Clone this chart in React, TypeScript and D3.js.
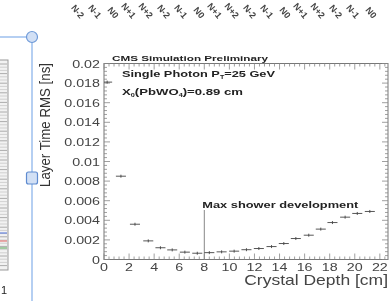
import React from 'react';
import * as d3 from 'd3';

// layer centres (cm) and time RMS (ns)
const depth = [0.25, 1.35, 2.47, 3.53, 4.5, 5.44, 6.45, 7.44, 8.4, 9.38, 10.38, 11.36, 12.35, 13.36, 14.34, 15.3, 16.33, 17.29, 18.22, 19.23, 20.2, 21.2];
const rms = [0.0181, 0.0085, 0.0036, 0.0019, 0.0012, 0.00098, 0.00075, 0.00064, 0.0007, 0.00078, 0.00085, 0.001, 0.00112, 0.00132, 0.00163, 0.00214, 0.00248, 0.0031, 0.00377, 0.00432, 0.0047, 0.0049];
const xHalfWidth = 0.4;

const yTicks = [0, 0.002, 0.004, 0.006, 0.008, 0.01, 0.012, 0.014, 0.016, 0.018, 0.02];
const xTicks = [0, 2, 4, 6, 8, 10, 12, 14, 16, 18, 20, 22];
const maxShowerDepth = 8;

// rotated labels on top
const topLabels = ['N-2', 'N-1', 'N0', 'N+1', 'N+2'];

const W = 392;
const H = 301;
const FONT = '"Liberation Sans", Arial, sans-serif';

const x = d3.scaleLinear().domain([0, 22.65]).range([104, 388]);
const y = d3.scaleLinear().domain([0, 0.02]).range([259.5, 63.5]);

const Stretch = ({ tx, ty, sx = 1.3, anchor = 'start', size = 11, weight = 'normal', fill = '#333', children }: any) => (
  <text
    transform={`translate(${tx},${ty}) scale(${sx},1)`}
    textAnchor={anchor}
    fontSize={size}
    fontWeight={weight}
    fill={fill}
    fontFamily={FONT}
  >
    {children}
  </text>
);

const Fit = ({ tx, ty, len, size = 9, children }: any) => (
  <text
    x={tx}
    y={ty}
    fontSize={size}
    fontWeight="bold"
    fill="#222"
    fontFamily={FONT}
    textLength={len}
    lengthAdjust="spacingAndGlyphs"
  >
    {children}
  </text>
);

export default function App() {
  const [x0, x1] = x.range();
  const [y0, y1] = y.range();

  const xMinor = d3.range(0, 22.65, 0.4);
  const yMinor = d3.range(0, 0.02001, 0.0004);
  const stripes = d3.range(64, 268, 3.2);

  return (
    <svg width={W} height={H} style={{ position: 'absolute', left: 0, top: 0, background: '#fff' }}>
      <defs>
        <filter id="soft">
          <feGaussianBlur stdDeviation="0.45" />
        </filter>
      </defs>
      <g filter="url(#soft)">
        {/* top rotated labels */}
        {d3.range(18).map(i => (
          <text
            key={i}
            transform={`translate(${80 + i * 17.2},19) rotate(50)`}
            textAnchor="end"
            fontSize={9}
            fontWeight="bold"
            fill="#444"
            fontFamily={FONT}
          >
            {topLabels[i % 5]}
          </text>
        ))}

        {/* left side panel */}
        <rect x={-2} y={60} width={10} height={210} fill="#f2f2f2" stroke="#999" strokeWidth={1} />
        {stripes.map((s, i) => (
          <line key={i} x1={0} x2={7} y1={s} y2={s} stroke={i % 3 === 0 ? '#999' : '#c8c8c8'} strokeWidth={0.8} />
        ))}
        <line x1={0} x2={7} y1={233} y2={233} stroke="#4a6ed8" strokeWidth={1} />
        <line x1={0} x2={7} y1={241} y2={241} stroke="#e06060" strokeWidth={1} />
        <line x1={0} x2={7} y1={248} y2={248} stroke="#50a050" strokeWidth={1} />
        <text x={1} y={294} fontSize={11} fill="#222" fontFamily={FONT}>1</text>

        {/* y label */}
        <text
          transform="translate(50,125) rotate(-90)"
          textAnchor="middle"
          fontSize={15}
          fill="#333"
          fontFamily={FONT}
          textLength={124}
          lengthAdjust="spacingAndGlyphs"
        >
          Layer Time RMS [ns]
        </text>

        {/* frame */}
        <rect x={x0} y={y1} width={x1 - x0} height={y0 - y1} fill="none" stroke="#777" strokeWidth={1} />

        {/* minor and major ticks */}
        {xMinor.map((t, i) => {
          const major = Math.abs(t / 2 - Math.round(t / 2)) < 1e-6;
          const len = major ? 6 : 3;
          return (
            <g key={i} stroke="#888" strokeWidth={0.8}>
              <line x1={x(t)} x2={x(t)} y1={y0} y2={y0 - len} />
              <line x1={x(t)} x2={x(t)} y1={y1} y2={y1 + len} />
            </g>
          );
        })}
        {yMinor.map((t, i) => {
          const major = Math.abs(t / 0.002 - Math.round(t / 0.002)) < 1e-6;
          const len = major ? 6 : 3;
          return (
            <g key={i} stroke="#888" strokeWidth={0.8}>
              <line x1={x0} x2={x0 + len} y1={y(t)} y2={y(t)} />
              <line x1={x1} x2={x1 - len} y1={y(t)} y2={y(t)} />
            </g>
          );
        })}

        {/* y tick labels */}
        {yTicks.map(t => (
          <Stretch key={t} tx={100} ty={y(t) + 4} anchor="end" size={11} fill="#444">
            {t === 0 ? '0' : String(t)}
          </Stretch>
        ))}
        {/* x tick labels */}
        {xTicks.map(t => (
          <Stretch key={t} tx={x(t)} ty={271} anchor="middle" size={11} fill="#444">
            {t}
          </Stretch>
        ))}
        <Stretch tx={388} ty={285} anchor="end" size={14} sx={1.25} fill="#444">
          Crystal Depth [cm]
        </Stretch>

        {/* annotations */}
        <Fit tx={112} ty={61} len={156} size={8}>CMS Simulation Preliminary</Fit>
        <Fit tx={122} ty={77} len={153} size={9}>
          Single Photon P<tspan fontSize={5} dy={2}>T</tspan><tspan dy={-2}>=25 GeV</tspan>
        </Fit>
        <Fit tx={122} ty={95} len={121} size={9}>
          X<tspan fontSize={5} dy={2}>0</tspan><tspan dy={-2}>(PbWO</tspan><tspan fontSize={5} dy={2}>4</tspan><tspan dy={-2}>)=0.89 cm</tspan>
        </Fit>

        {/* max shower marker */}
        <line x1={x(maxShowerDepth)} x2={x(maxShowerDepth)} y1={y(0)} y2={210} stroke="#888" strokeWidth={1} />
        <Fit tx={x(maxShowerDepth) - 2} ty={208} len={156} size={9}>Max shower development</Fit>

        {/* points with horizontal error bars */}
        {depth.map((d, i) => (
          <g key={i} stroke="#444" strokeWidth={0.9}>
            <line x1={Math.max(x0, x(d - xHalfWidth))} x2={x(d + xHalfWidth)} y1={y(rms[i])} y2={y(rms[i])} />
            <line x1={x(d)} x2={x(d)} y1={y(rms[i]) - 1.5} y2={y(rms[i]) + 1.5} />
          </g>
        ))}

        {/* blue slider handles */}
        <line x1={0} x2={27} y1={37} y2={37} stroke="#9dbfee" strokeWidth={1.5} />
        <line x1={32} x2={32} y1={42} y2={H} stroke="#9dbfee" strokeWidth={1.5} />
        <circle cx={32} cy={37} r={5.5} fill="#d2e0f5" stroke="#6f9ad8" strokeWidth={1.2} />
        <rect x={26.5} y={172} width={11} height={12} rx={2} fill="#d2e0f5" stroke="#5f8bd0" strokeWidth={1.2} />
      </g>
    </svg>
  );
}
